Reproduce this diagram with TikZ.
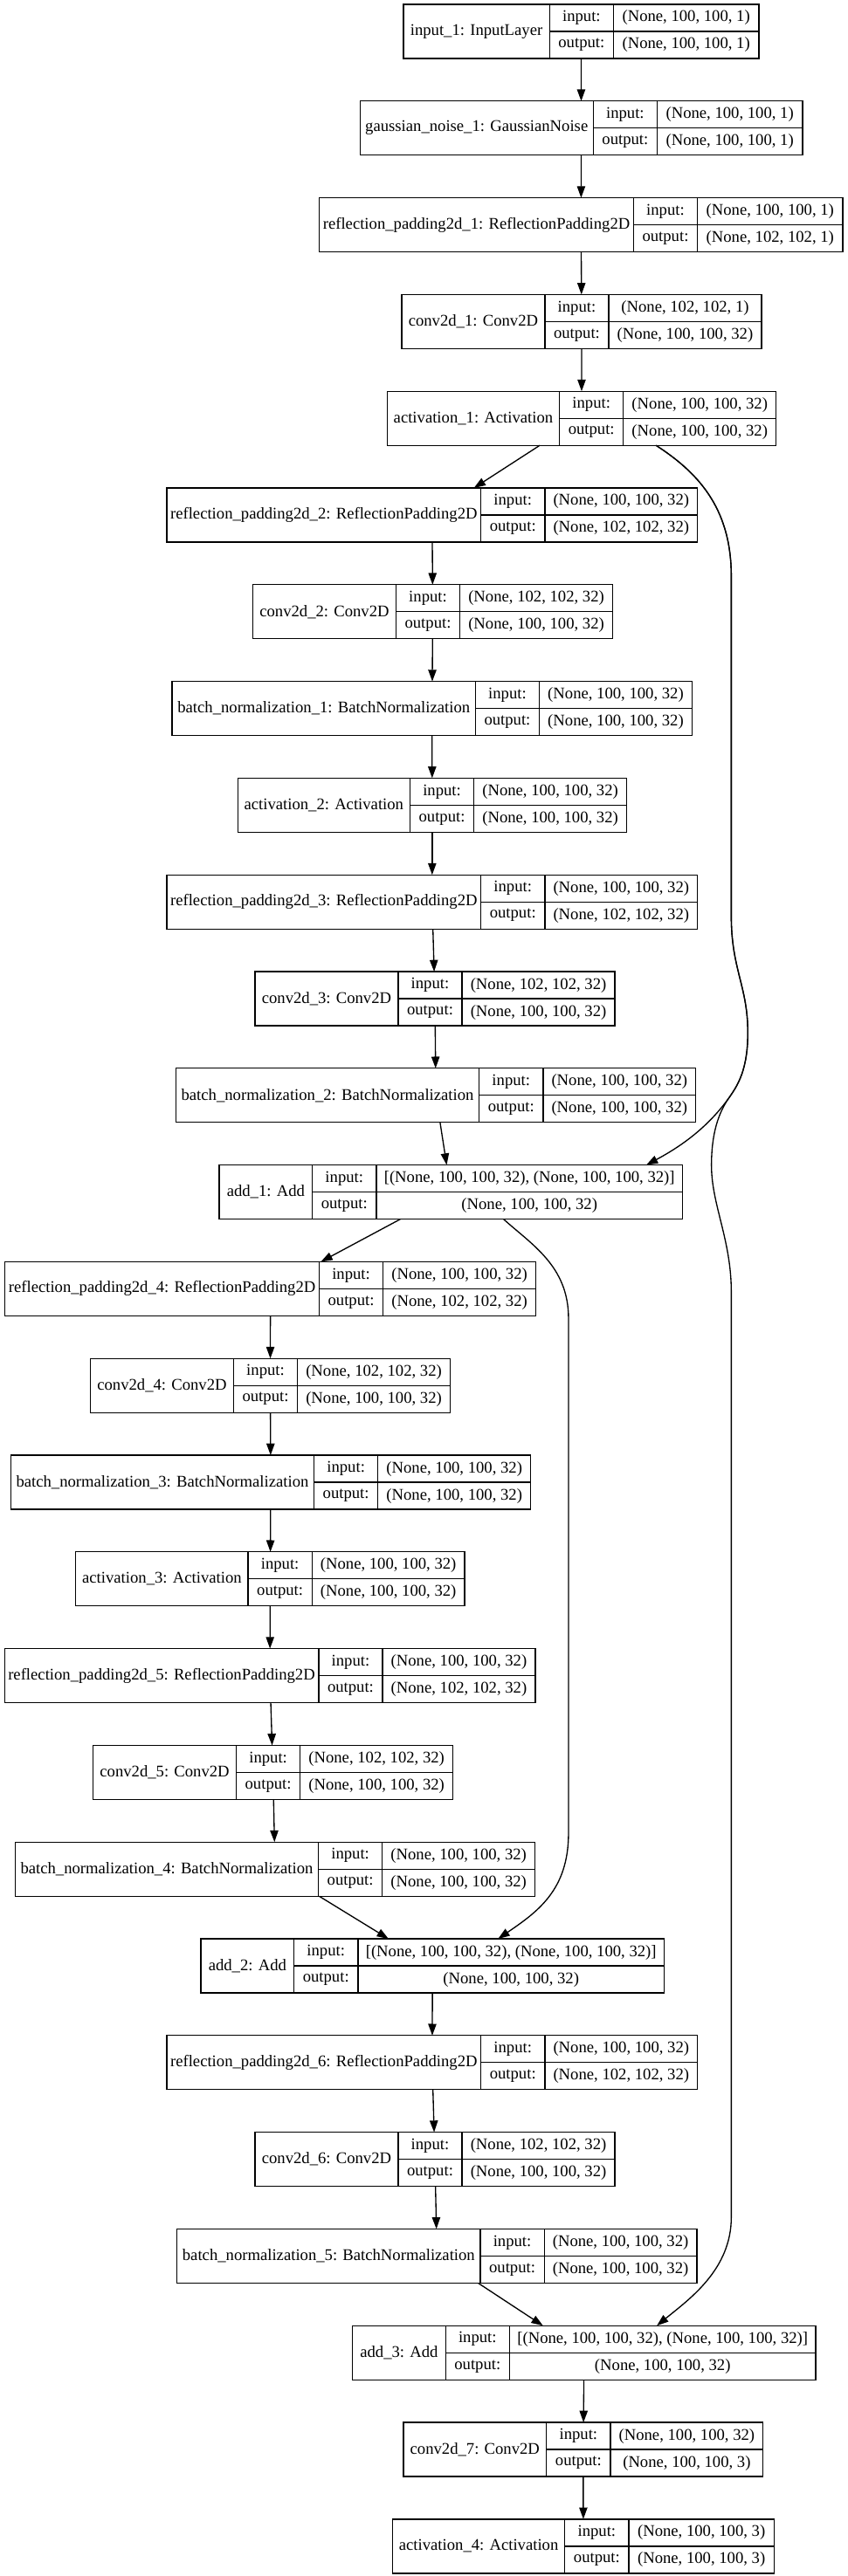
\documentclass[tikz,border=0pt]{standalone}
\usepackage{fontspec}
\setmainfont{Liberation Serif}
\usetikzlibrary{arrows.meta,fit,calc}
\tikzset{
  box/.style={draw,line width=1pt,inner sep=0pt,outer sep=0pt},
  txt/.style={inner sep=0pt,font=\fontsize{14}{16}\selectfont},
  cell/.style={line width=1pt},
  conn/.style={line width=1pt,-{Triangle[length=10pt,width=7pt]}},
}
\newcommand\layer[8]{%
  \pgfmathsetmacro\lyT{5+110.8*#2}%
  \pgfmathsetmacro\lyB{\lyT+62}%
  \pgfmathsetmacro\lyM{\lyT+31}%
  \pgfmathsetmacro\lyA{#3+#4}%
  \pgfmathsetmacro\lyC{\lyA+73.5}%
  \pgfmathsetmacro\lyR{\lyC+#5}%
  \coordinate (#1-tl) at (#3,\lyT);
  \coordinate (#1-br) at (\lyR,\lyB);
  \node[box,fit=(#1-tl)(#1-br)] (#1) {};
  \draw[cell] (\lyA,\lyT) -- (\lyA,\lyB) (\lyC,\lyT) -- (\lyC,\lyB) (\lyA,\lyM) -- (\lyR,\lyM);
  \node[txt] (#1-name) at ({(#3+\lyA)/2},\lyM) {#6};
  \node[txt] (#1-il) at ({(\lyA+\lyC)/2},{\lyT+15.5}) {input:};
  \node[txt] (#1-ol) at ({(\lyA+\lyC)/2},{\lyT+46.5}) {output:};
  \node[txt] (#1-iv) at ({(\lyC+\lyR)/2},{\lyT+15.5}) {#7};
  \node[txt] (#1-ov) at ({(\lyC+\lyR)/2},{\lyT+46.5}) {#8};
}
\begin{document}
\begin{tikzpicture}[x=0.7472pt,y=-0.75pt]
\useasboundingbox (0,0) rectangle (974.6,2951);
\def\Va{(None, 100, 100, 1)}
\def\Vb{(None, 102, 102, 1)}
\def\Vc{(None, 100, 100, 32)}
\def\Vd{(None, 102, 102, 32)}
\def\Ve{(None, 100, 100, 3)}
\def\Vf{[(None, 100, 100, 32), (None, 100, 100, 32)]}
\layer{in1}{0}{463.6}{168}{167}{input\_1: InputLayer}{\Va}{\Va}
\layer{gn1}{1}{413.8}{268}{167}{gaussian\_noise\_1: GaussianNoise}{\Va}{\Va}
\layer{rp1}{2}{367.1}{361}{167}{reflection\_padding2d\_1: ReflectionPadding2D}{\Va}{\Vb}
\layer{cv1}{3}{461.7}{164.5}{175.5}{conv2d\_1: Conv2D}{\Vb}{\Vc}
\layer{ac1}{4}{445}{198}{175.5}{activation\_1: Activation}{\Vc}{\Vc}
\layer{rp2}{5}{191.7}{361}{175.5}{reflection\_padding2d\_2: ReflectionPadding2D}{\Vc}{\Vd}
\layer{cv2}{6}{290.6}{164.5}{175.5}{conv2d\_2: Conv2D}{\Vd}{\Vc}
\layer{bn1}{7}{197.9}{348.5}{175.5}{batch\_normalization\_1: BatchNormalization}{\Vc}{\Vc}
\layer{ac2}{8}{273.2}{198}{175.5}{activation\_2: Activation}{\Vc}{\Vc}
\layer{rp3}{9}{191.7}{361}{175.5}{reflection\_padding2d\_3: ReflectionPadding2D}{\Vc}{\Vd}
\layer{cv3}{10}{293.1}{164.5}{175.5}{conv2d\_3: Conv2D}{\Vd}{\Vc}
\layer{bn2}{11}{202.2}{348.5}{175.5}{batch\_normalization\_2: BatchNormalization}{\Vc}{\Vc}
\layer{ad1}{12}{252}{107}{352}{add\_1: Add}{\Vf}{\Vc}
\layer{rp4}{13}{5.8}{361}{175.5}{reflection\_padding2d\_4: ReflectionPadding2D}{\Vc}{\Vd}
\layer{cv4}{14}{103.9}{164.5}{175.5}{conv2d\_4: Conv2D}{\Vd}{\Vc}
\layer{bn3}{15}{12.4}{348.5}{175.5}{batch\_normalization\_3: BatchNormalization}{\Vc}{\Vc}
\layer{ac3}{16}{87.1}{198}{175.5}{activation\_3: Activation}{\Vc}{\Vc}
\layer{rp5}{17}{5.2}{361}{175.5}{reflection\_padding2d\_5: ReflectionPadding2D}{\Vc}{\Vd}
\layer{cv5}{18}{107}{164.5}{175.5}{conv2d\_5: Conv2D}{\Vd}{\Vc}
\layer{bn4}{19}{17.4}{348.5}{175.5}{batch\_normalization\_4: BatchNormalization}{\Vc}{\Vc}
\layer{ad2}{20}{230.9}{107}{352}{add\_2: Add}{\Vf}{\Vc}
\layer{rp6}{21}{191.7}{361}{175.5}{reflection\_padding2d\_6: ReflectionPadding2D}{\Vc}{\Vd}
\layer{cv6}{22}{293.1}{164.5}{175.5}{conv2d\_6: Conv2D}{\Vd}{\Vc}
\layer{bn5}{23}{203.5}{348.5}{175.5}{batch\_normalization\_5: BatchNormalization}{\Vc}{\Vc}
\layer{ad3}{24}{405.1}{107}{352}{add\_3: Add}{\Vf}{\Vc}
\layer{cv7}{25}{463.6}{164.5}{175.5}{conv2d\_7: Conv2D}{\Vc}{\Ve}
\layer{ac4}{26}{451.2}{198}{167}{activation\_4: Activation}{\Ve}{\Ve}
% straight connectors
\foreach \a/\b in {in1/gn1,gn1/rp1,rp1/cv1,cv1/ac1,ac1/rp2,rp2/cv2,cv2/bn1,bn1/ac2,ac2/rp3,rp3/cv3,cv3/bn2,bn2/ad1,ad1/rp4,rp4/cv4,cv4/bn3,bn3/ac3,ac3/rp5,rp5/cv5,cv5/bn4,bn4/ad2,ad2/rp6,rp6/cv6,cv6/bn5,bn5/ad3,ad3/cv7,cv7/ac4}
  \draw[conn] (\a) -- (\b);
% skip connectors
\draw[conn] ($(ac1.south)+(85.5,0)$) .. controls (800,540) and (840.5,580) .. (840.5,660)
  -- (840.5,1050) .. controls (840.5,1110) and (859.5,1130) .. (859.5,1183)
  .. controls (859.5,1225) and (848,1243) .. (839,1256)
  .. controls (815,1290) and (785,1312) .. ($(ad1.north)+(224.5,0)$);
\draw[conn] ($(ac1.south)+(85.5,0)$) .. controls (800,540) and (840.5,580) .. (840.5,660)
  -- (840.5,1050) .. controls (840.5,1110) and (859.5,1130) .. (859.5,1183)
  .. controls (859.5,1225) and (848,1243) .. (839,1256)
  .. controls (825,1275) and (817.7,1300) .. (817.7,1335)
  .. controls (817.7,1380) and (840.5,1420) .. (840.5,1480)
  -- (840.5,2540) .. controls (840.5,2600) and (792,2634) .. ($(ad3.north)+(83.6,0)$);
\draw[conn] ($(ad1.south)+(60.5,0)$) .. controls (610,1425) and (653.4,1450) .. (653.4,1510)
  -- (653.4,2100) .. controls (653.4,2165) and (618,2190) .. ($(ad2.north)+(75.3,0)$);
\end{tikzpicture}
\end{document}
